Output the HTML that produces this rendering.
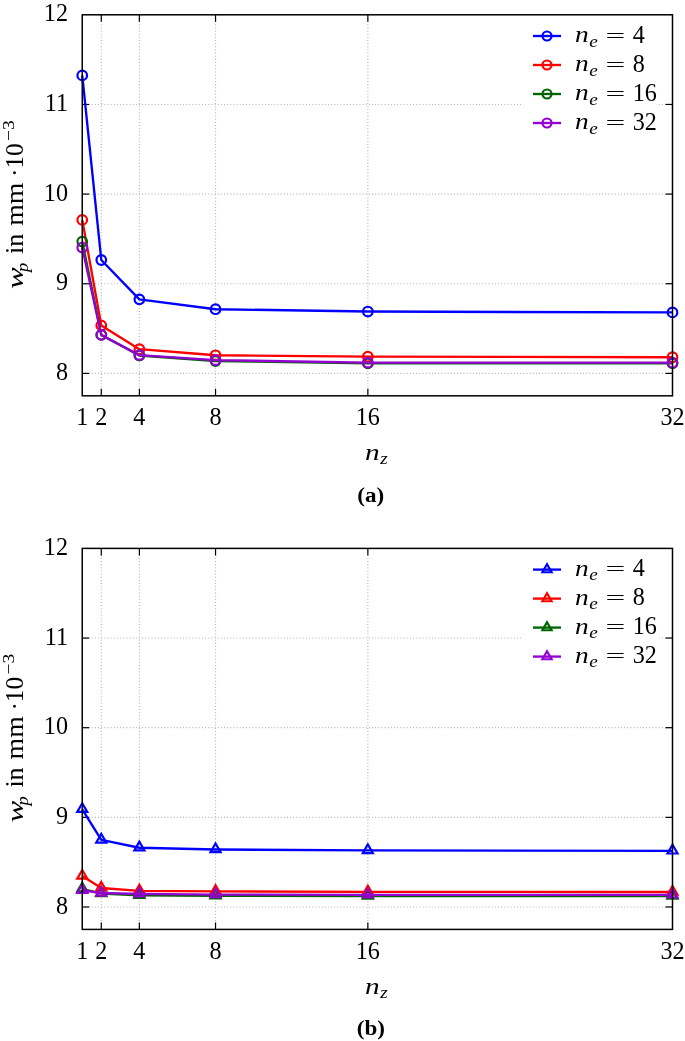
<!DOCTYPE html>
<html><head><meta charset="utf-8"><title>Figure</title>
<style>
html,body{margin:0;padding:0;background:#fff;}
svg{display:block}
.t{font-family:"Liberation Serif",serif;fill:#000}
.cap{font-family:"Liberation Serif",serif;font-weight:bold;fill:#000}
.grid{stroke:#b4b4b4;stroke-width:1.15;stroke-dasharray:1 2.15}
.tick{stroke:#000;stroke-width:1.2}
</style></head><body>
<svg width="685" height="1041" viewBox="0 0 685 1041">
<rect width="685" height="1041" fill="#fff"/>
<g transform="translate(0,0)">
<line x1="101.29" y1="14.8" x2="101.29" y2="395.81" class="grid"/>
<line x1="139.37" y1="14.8" x2="139.37" y2="395.81" class="grid"/>
<line x1="215.53" y1="14.8" x2="215.53" y2="395.81" class="grid"/>
<line x1="367.85" y1="14.8" x2="367.85" y2="395.81" class="grid"/>
<line x1="82.25" y1="373.40" x2="672.5" y2="373.40" class="grid"/>
<line x1="82.25" y1="283.75" x2="672.5" y2="283.75" class="grid"/>
<line x1="82.25" y1="194.10" x2="672.5" y2="194.10" class="grid"/>
<line x1="82.25" y1="104.45" x2="672.5" y2="104.45" class="grid"/>
<line x1="101.29" y1="14.8" x2="101.29" y2="21.8" class="tick"/>
<line x1="101.29" y1="395.81" x2="101.29" y2="388.81" class="tick"/>
<line x1="139.37" y1="14.8" x2="139.37" y2="21.8" class="tick"/>
<line x1="139.37" y1="395.81" x2="139.37" y2="388.81" class="tick"/>
<line x1="215.53" y1="14.8" x2="215.53" y2="21.8" class="tick"/>
<line x1="215.53" y1="395.81" x2="215.53" y2="388.81" class="tick"/>
<line x1="367.85" y1="14.8" x2="367.85" y2="21.8" class="tick"/>
<line x1="367.85" y1="395.81" x2="367.85" y2="388.81" class="tick"/>
<line x1="82.25" y1="373.40" x2="89.25" y2="373.40" class="tick"/>
<line x1="672.5" y1="373.40" x2="665.5" y2="373.40" class="tick"/>
<line x1="82.25" y1="283.75" x2="89.25" y2="283.75" class="tick"/>
<line x1="672.5" y1="283.75" x2="665.5" y2="283.75" class="tick"/>
<line x1="82.25" y1="194.10" x2="89.25" y2="194.10" class="tick"/>
<line x1="672.5" y1="194.10" x2="665.5" y2="194.10" class="tick"/>
<line x1="82.25" y1="104.45" x2="89.25" y2="104.45" class="tick"/>
<line x1="672.5" y1="104.45" x2="665.5" y2="104.45" class="tick"/>
<polyline points="82.25,75.40 101.29,259.99 139.37,299.35 215.53,309.21 367.85,311.54 672.50,312.44" fill="none" stroke="#0000ff" stroke-width="2.35" stroke-linejoin="round"/>
<circle cx="82.25" cy="75.40" r="4.8" fill="none" stroke="#0000ff" stroke-width="2.2"/>
<circle cx="101.29" cy="259.99" r="4.8" fill="none" stroke="#0000ff" stroke-width="2.2"/>
<circle cx="139.37" cy="299.35" r="4.8" fill="none" stroke="#0000ff" stroke-width="2.2"/>
<circle cx="215.53" cy="309.21" r="4.8" fill="none" stroke="#0000ff" stroke-width="2.2"/>
<circle cx="367.85" cy="311.54" r="4.8" fill="none" stroke="#0000ff" stroke-width="2.2"/>
<circle cx="672.50" cy="312.44" r="4.8" fill="none" stroke="#0000ff" stroke-width="2.2"/>
<polyline points="82.25,219.92 101.29,325.44 139.37,349.19 215.53,355.29 367.85,356.64 672.50,357.26" fill="none" stroke="#ff0000" stroke-width="2.35" stroke-linejoin="round"/>
<circle cx="82.25" cy="219.92" r="4.8" fill="none" stroke="#ff0000" stroke-width="2.2"/>
<circle cx="101.29" cy="325.44" r="4.8" fill="none" stroke="#ff0000" stroke-width="2.2"/>
<circle cx="139.37" cy="349.19" r="4.8" fill="none" stroke="#ff0000" stroke-width="2.2"/>
<circle cx="215.53" cy="355.29" r="4.8" fill="none" stroke="#ff0000" stroke-width="2.2"/>
<circle cx="367.85" cy="356.64" r="4.8" fill="none" stroke="#ff0000" stroke-width="2.2"/>
<circle cx="672.50" cy="357.26" r="4.8" fill="none" stroke="#ff0000" stroke-width="2.2"/>
<polyline points="82.25,241.61 101.29,334.85 139.37,355.47 215.53,361.03 367.85,363.36 672.50,363.36" fill="none" stroke="#006400" stroke-width="2.35" stroke-linejoin="round"/>
<circle cx="82.25" cy="241.61" r="4.8" fill="none" stroke="#006400" stroke-width="2.2"/>
<circle cx="101.29" cy="334.85" r="4.8" fill="none" stroke="#006400" stroke-width="2.2"/>
<circle cx="139.37" cy="355.47" r="4.8" fill="none" stroke="#006400" stroke-width="2.2"/>
<circle cx="215.53" cy="361.03" r="4.8" fill="none" stroke="#006400" stroke-width="2.2"/>
<circle cx="367.85" cy="363.36" r="4.8" fill="none" stroke="#006400" stroke-width="2.2"/>
<circle cx="672.50" cy="363.36" r="4.8" fill="none" stroke="#006400" stroke-width="2.2"/>
<polyline points="82.25,247.53 101.29,334.94 139.37,355.11 215.53,360.13 367.85,362.64 672.50,362.64" fill="none" stroke="#9400d3" stroke-width="2.35" stroke-linejoin="round"/>
<circle cx="82.25" cy="247.53" r="4.8" fill="none" stroke="#9400d3" stroke-width="2.2"/>
<circle cx="101.29" cy="334.94" r="4.8" fill="none" stroke="#9400d3" stroke-width="2.2"/>
<circle cx="139.37" cy="355.11" r="4.8" fill="none" stroke="#9400d3" stroke-width="2.2"/>
<circle cx="215.53" cy="360.13" r="4.8" fill="none" stroke="#9400d3" stroke-width="2.2"/>
<circle cx="367.85" cy="362.64" r="4.8" fill="none" stroke="#9400d3" stroke-width="2.2"/>
<circle cx="672.50" cy="362.64" r="4.8" fill="none" stroke="#9400d3" stroke-width="2.2"/>
<rect x="521" y="15.8" width="137.5" height="125" fill="#fff"/>
<rect x="82.25" y="14.8" width="590.25" height="381.01" fill="none" stroke="#000" stroke-width="1.5"/>
<line x1="533" y1="36" x2="561" y2="36" stroke="#0000ff" stroke-width="2.35"/>
<circle cx="547.00" cy="36.00" r="4.5" fill="none" stroke="#0000ff" stroke-width="2.2"/>
<text transform="translate(575.00,42.00) scale(1.14,1.0)" class="t" style="font-size:24px;font-style:italic;" text-anchor="start">n</text>
<text transform="translate(589.20,46.60) scale(1.1,1.0)" class="t" style="font-size:17.5px;font-style:italic;" text-anchor="start">e</text>
<text transform="translate(605.60,41.80) scale(1.35,0.7)" class="t" style="font-size:26px;" text-anchor="start">=</text>
<text transform="translate(632.70,42.50) scale(0.93,1.0)" class="t" style="font-size:26px;" text-anchor="start">4</text>
<line x1="533" y1="65" x2="561" y2="65" stroke="#ff0000" stroke-width="2.35"/>
<circle cx="547.00" cy="65.00" r="4.5" fill="none" stroke="#ff0000" stroke-width="2.2"/>
<text transform="translate(575.00,71.00) scale(1.14,1.0)" class="t" style="font-size:24px;font-style:italic;" text-anchor="start">n</text>
<text transform="translate(589.20,75.60) scale(1.1,1.0)" class="t" style="font-size:17.5px;font-style:italic;" text-anchor="start">e</text>
<text transform="translate(605.60,70.80) scale(1.35,0.7)" class="t" style="font-size:26px;" text-anchor="start">=</text>
<text transform="translate(632.70,71.50) scale(0.93,1.0)" class="t" style="font-size:26px;" text-anchor="start">8</text>
<line x1="533" y1="94" x2="561" y2="94" stroke="#006400" stroke-width="2.35"/>
<circle cx="547.00" cy="94.00" r="4.5" fill="none" stroke="#006400" stroke-width="2.2"/>
<text transform="translate(575.00,100.00) scale(1.14,1.0)" class="t" style="font-size:24px;font-style:italic;" text-anchor="start">n</text>
<text transform="translate(589.20,104.60) scale(1.1,1.0)" class="t" style="font-size:17.5px;font-style:italic;" text-anchor="start">e</text>
<text transform="translate(605.60,99.80) scale(1.35,0.7)" class="t" style="font-size:26px;" text-anchor="start">=</text>
<text transform="translate(632.70,100.50) scale(0.93,1.0)" class="t" style="font-size:26px;" text-anchor="start">16</text>
<line x1="533" y1="123" x2="561" y2="123" stroke="#9400d3" stroke-width="2.35"/>
<circle cx="547.00" cy="123.00" r="4.5" fill="none" stroke="#9400d3" stroke-width="2.2"/>
<text transform="translate(575.00,129.00) scale(1.14,1.0)" class="t" style="font-size:24px;font-style:italic;" text-anchor="start">n</text>
<text transform="translate(589.20,133.60) scale(1.1,1.0)" class="t" style="font-size:17.5px;font-style:italic;" text-anchor="start">e</text>
<text transform="translate(605.60,128.80) scale(1.35,0.7)" class="t" style="font-size:26px;" text-anchor="start">=</text>
<text transform="translate(632.70,129.50) scale(0.93,1.0)" class="t" style="font-size:26px;" text-anchor="start">32</text>
<text transform="translate(82.25,425.30) scale(0.93,1.0)" class="t" style="font-size:26px;" text-anchor="middle">1</text>
<text transform="translate(101.29,425.30) scale(0.93,1.0)" class="t" style="font-size:26px;" text-anchor="middle">2</text>
<text transform="translate(139.37,425.30) scale(0.93,1.0)" class="t" style="font-size:26px;" text-anchor="middle">4</text>
<text transform="translate(215.53,425.30) scale(0.93,1.0)" class="t" style="font-size:26px;" text-anchor="middle">8</text>
<text transform="translate(367.85,425.30) scale(0.93,1.0)" class="t" style="font-size:26px;" text-anchor="middle">16</text>
<text transform="translate(672.50,425.30) scale(0.93,1.0)" class="t" style="font-size:26px;" text-anchor="middle">32</text>
<text transform="translate(68.00,380.00) scale(0.93,1.0)" class="t" style="font-size:26px;" text-anchor="end">8</text>
<text transform="translate(68.00,290.35) scale(0.93,1.0)" class="t" style="font-size:26px;" text-anchor="end">9</text>
<text transform="translate(68.00,200.70) scale(0.93,1.0)" class="t" style="font-size:26px;" text-anchor="end">10</text>
<text transform="translate(68.00,111.05) scale(0.93,1.0)" class="t" style="font-size:26px;" text-anchor="end">11</text>
<text transform="translate(68.00,21.40) scale(0.93,1.0)" class="t" style="font-size:26px;" text-anchor="end">12</text>
<text transform="translate(365.00,460.00) scale(1.22,1.0)" class="t" style="font-size:24px;font-style:italic;" text-anchor="start">n</text>
<text transform="translate(380.20,464.00) scale(1.12,1.0)" class="t" style="font-size:17px;font-style:italic;" text-anchor="start">z</text>
<g transform="translate(23.4,289) rotate(-90)">
<text transform="translate(0.00,0.00) scale(1.45,1.0)" class="t" style="font-size:22.5px;font-style:italic;" text-anchor="start">w</text>
<text transform="translate(17.00,4.20) scale(1.15,1.0)" class="t" style="font-size:16px;font-style:italic;" text-anchor="start">p</text>
<text transform="translate(35.00,0.00)" class="t" style="font-size:26px;" text-anchor="start">in</text>
<text transform="translate(63.20,0.00) scale(1.07,1.0)" class="t" style="font-size:26px;" text-anchor="start">mm</text>
<text transform="translate(112.00,0.00) scale(0.97,1.0)" class="t" style="font-size:26px;" text-anchor="start">·10</text>
<text transform="translate(148.00,-9.50) scale(1.12,1.0)" class="t" style="font-size:17.5px;" text-anchor="start">−3</text>
</g>
<text transform="translate(370.80,501.50) scale(1.1,1.0)" class="cap" style="font-size:21px;" text-anchor="middle">(a)</text>
</g>
<g transform="translate(0,533.6)">
<line x1="101.29" y1="14.8" x2="101.29" y2="395.81" class="grid"/>
<line x1="139.37" y1="14.8" x2="139.37" y2="395.81" class="grid"/>
<line x1="215.53" y1="14.8" x2="215.53" y2="395.81" class="grid"/>
<line x1="367.85" y1="14.8" x2="367.85" y2="395.81" class="grid"/>
<line x1="82.25" y1="373.40" x2="672.5" y2="373.40" class="grid"/>
<line x1="82.25" y1="283.75" x2="672.5" y2="283.75" class="grid"/>
<line x1="82.25" y1="194.10" x2="672.5" y2="194.10" class="grid"/>
<line x1="82.25" y1="104.45" x2="672.5" y2="104.45" class="grid"/>
<line x1="101.29" y1="14.8" x2="101.29" y2="21.8" class="tick"/>
<line x1="101.29" y1="395.81" x2="101.29" y2="388.81" class="tick"/>
<line x1="139.37" y1="14.8" x2="139.37" y2="21.8" class="tick"/>
<line x1="139.37" y1="395.81" x2="139.37" y2="388.81" class="tick"/>
<line x1="215.53" y1="14.8" x2="215.53" y2="21.8" class="tick"/>
<line x1="215.53" y1="395.81" x2="215.53" y2="388.81" class="tick"/>
<line x1="367.85" y1="14.8" x2="367.85" y2="21.8" class="tick"/>
<line x1="367.85" y1="395.81" x2="367.85" y2="388.81" class="tick"/>
<line x1="82.25" y1="373.40" x2="89.25" y2="373.40" class="tick"/>
<line x1="672.5" y1="373.40" x2="665.5" y2="373.40" class="tick"/>
<line x1="82.25" y1="283.75" x2="89.25" y2="283.75" class="tick"/>
<line x1="672.5" y1="283.75" x2="665.5" y2="283.75" class="tick"/>
<line x1="82.25" y1="194.10" x2="89.25" y2="194.10" class="tick"/>
<line x1="672.5" y1="194.10" x2="665.5" y2="194.10" class="tick"/>
<line x1="82.25" y1="104.45" x2="89.25" y2="104.45" class="tick"/>
<line x1="672.5" y1="104.45" x2="665.5" y2="104.45" class="tick"/>
<polyline points="82.25,275.68 101.29,306.34 139.37,314.14 215.53,315.93 367.85,316.83 672.50,317.28" fill="none" stroke="#0000ff" stroke-width="2.35" stroke-linejoin="round"/>
<polygon points="82.25,269.58 77.23,278.28 87.27,278.28" fill="none" stroke="#0000ff" stroke-width="2.2" stroke-linejoin="miter"/>
<polygon points="101.29,300.24 96.27,308.94 106.31,308.94" fill="none" stroke="#0000ff" stroke-width="2.2" stroke-linejoin="miter"/>
<polygon points="139.37,308.04 134.35,316.74 144.39,316.74" fill="none" stroke="#0000ff" stroke-width="2.2" stroke-linejoin="miter"/>
<polygon points="215.53,309.83 210.51,318.53 220.56,318.53" fill="none" stroke="#0000ff" stroke-width="2.2" stroke-linejoin="miter"/>
<polygon points="367.85,310.73 362.83,319.43 372.88,319.43" fill="none" stroke="#0000ff" stroke-width="2.2" stroke-linejoin="miter"/>
<polygon points="672.50,311.18 667.48,319.88 677.52,319.88" fill="none" stroke="#0000ff" stroke-width="2.2" stroke-linejoin="miter"/>
<polyline points="82.25,342.47 101.29,354.39 139.37,357.26 215.53,357.80 367.85,358.25 672.50,358.43" fill="none" stroke="#ff0000" stroke-width="2.35" stroke-linejoin="round"/>
<polygon points="82.25,336.37 77.23,345.07 87.27,345.07" fill="none" stroke="#ff0000" stroke-width="2.2" stroke-linejoin="miter"/>
<polygon points="101.29,348.29 96.27,356.99 106.31,356.99" fill="none" stroke="#ff0000" stroke-width="2.2" stroke-linejoin="miter"/>
<polygon points="139.37,351.16 134.35,359.86 144.39,359.86" fill="none" stroke="#ff0000" stroke-width="2.2" stroke-linejoin="miter"/>
<polygon points="215.53,351.70 210.51,360.40 220.56,360.40" fill="none" stroke="#ff0000" stroke-width="2.2" stroke-linejoin="miter"/>
<polygon points="367.85,352.15 362.83,360.85 372.88,360.85" fill="none" stroke="#ff0000" stroke-width="2.2" stroke-linejoin="miter"/>
<polygon points="672.50,352.33 667.48,361.03 677.52,361.03" fill="none" stroke="#ff0000" stroke-width="2.2" stroke-linejoin="miter"/>
<polyline points="82.25,355.20 101.29,359.95 139.37,361.66 215.53,362.19 367.85,362.37 672.50,362.37" fill="none" stroke="#006400" stroke-width="2.35" stroke-linejoin="round"/>
<polygon points="82.25,349.10 77.23,357.80 87.27,357.80" fill="none" stroke="#006400" stroke-width="2.2" stroke-linejoin="miter"/>
<polygon points="101.29,353.85 96.27,362.55 106.31,362.55" fill="none" stroke="#006400" stroke-width="2.2" stroke-linejoin="miter"/>
<polygon points="139.37,355.56 134.35,364.26 144.39,364.26" fill="none" stroke="#006400" stroke-width="2.2" stroke-linejoin="miter"/>
<polygon points="215.53,356.09 210.51,364.79 220.56,364.79" fill="none" stroke="#006400" stroke-width="2.2" stroke-linejoin="miter"/>
<polygon points="367.85,356.27 362.83,364.97 372.88,364.97" fill="none" stroke="#006400" stroke-width="2.2" stroke-linejoin="miter"/>
<polygon points="672.50,356.27 667.48,364.97 677.52,364.97" fill="none" stroke="#006400" stroke-width="2.2" stroke-linejoin="miter"/>
<polyline points="82.25,356.81 101.29,359.41 139.37,360.22 215.53,361.03 367.85,361.21 672.50,361.21" fill="none" stroke="#9400d3" stroke-width="2.35" stroke-linejoin="round"/>
<polygon points="82.25,350.71 77.23,359.41 87.27,359.41" fill="none" stroke="#9400d3" stroke-width="2.2" stroke-linejoin="miter"/>
<polygon points="101.29,353.31 96.27,362.01 106.31,362.01" fill="none" stroke="#9400d3" stroke-width="2.2" stroke-linejoin="miter"/>
<polygon points="139.37,354.12 134.35,362.82 144.39,362.82" fill="none" stroke="#9400d3" stroke-width="2.2" stroke-linejoin="miter"/>
<polygon points="215.53,354.93 210.51,363.63 220.56,363.63" fill="none" stroke="#9400d3" stroke-width="2.2" stroke-linejoin="miter"/>
<polygon points="367.85,355.11 362.83,363.81 372.88,363.81" fill="none" stroke="#9400d3" stroke-width="2.2" stroke-linejoin="miter"/>
<polygon points="672.50,355.11 667.48,363.81 677.52,363.81" fill="none" stroke="#9400d3" stroke-width="2.2" stroke-linejoin="miter"/>
<rect x="521" y="15.8" width="137.5" height="125" fill="#fff"/>
<rect x="82.25" y="14.8" width="590.25" height="381.01" fill="none" stroke="#000" stroke-width="1.5"/>
<line x1="533" y1="36" x2="561" y2="36" stroke="#0000ff" stroke-width="2.35"/>
<polygon points="547.00,30.70 542.41,38.65 551.59,38.65" fill="none" stroke="#0000ff" stroke-width="2.2" stroke-linejoin="miter"/>
<text transform="translate(575.00,42.00) scale(1.14,1.0)" class="t" style="font-size:24px;font-style:italic;" text-anchor="start">n</text>
<text transform="translate(589.20,46.60) scale(1.1,1.0)" class="t" style="font-size:17.5px;font-style:italic;" text-anchor="start">e</text>
<text transform="translate(605.60,41.80) scale(1.35,0.7)" class="t" style="font-size:26px;" text-anchor="start">=</text>
<text transform="translate(632.70,42.50) scale(0.93,1.0)" class="t" style="font-size:26px;" text-anchor="start">4</text>
<line x1="533" y1="65" x2="561" y2="65" stroke="#ff0000" stroke-width="2.35"/>
<polygon points="547.00,59.70 542.41,67.65 551.59,67.65" fill="none" stroke="#ff0000" stroke-width="2.2" stroke-linejoin="miter"/>
<text transform="translate(575.00,71.00) scale(1.14,1.0)" class="t" style="font-size:24px;font-style:italic;" text-anchor="start">n</text>
<text transform="translate(589.20,75.60) scale(1.1,1.0)" class="t" style="font-size:17.5px;font-style:italic;" text-anchor="start">e</text>
<text transform="translate(605.60,70.80) scale(1.35,0.7)" class="t" style="font-size:26px;" text-anchor="start">=</text>
<text transform="translate(632.70,71.50) scale(0.93,1.0)" class="t" style="font-size:26px;" text-anchor="start">8</text>
<line x1="533" y1="94" x2="561" y2="94" stroke="#006400" stroke-width="2.35"/>
<polygon points="547.00,88.70 542.41,96.65 551.59,96.65" fill="none" stroke="#006400" stroke-width="2.2" stroke-linejoin="miter"/>
<text transform="translate(575.00,100.00) scale(1.14,1.0)" class="t" style="font-size:24px;font-style:italic;" text-anchor="start">n</text>
<text transform="translate(589.20,104.60) scale(1.1,1.0)" class="t" style="font-size:17.5px;font-style:italic;" text-anchor="start">e</text>
<text transform="translate(605.60,99.80) scale(1.35,0.7)" class="t" style="font-size:26px;" text-anchor="start">=</text>
<text transform="translate(632.70,100.50) scale(0.93,1.0)" class="t" style="font-size:26px;" text-anchor="start">16</text>
<line x1="533" y1="123" x2="561" y2="123" stroke="#9400d3" stroke-width="2.35"/>
<polygon points="547.00,117.70 542.41,125.65 551.59,125.65" fill="none" stroke="#9400d3" stroke-width="2.2" stroke-linejoin="miter"/>
<text transform="translate(575.00,129.00) scale(1.14,1.0)" class="t" style="font-size:24px;font-style:italic;" text-anchor="start">n</text>
<text transform="translate(589.20,133.60) scale(1.1,1.0)" class="t" style="font-size:17.5px;font-style:italic;" text-anchor="start">e</text>
<text transform="translate(605.60,128.80) scale(1.35,0.7)" class="t" style="font-size:26px;" text-anchor="start">=</text>
<text transform="translate(632.70,129.50) scale(0.93,1.0)" class="t" style="font-size:26px;" text-anchor="start">32</text>
<text transform="translate(82.25,425.30) scale(0.93,1.0)" class="t" style="font-size:26px;" text-anchor="middle">1</text>
<text transform="translate(101.29,425.30) scale(0.93,1.0)" class="t" style="font-size:26px;" text-anchor="middle">2</text>
<text transform="translate(139.37,425.30) scale(0.93,1.0)" class="t" style="font-size:26px;" text-anchor="middle">4</text>
<text transform="translate(215.53,425.30) scale(0.93,1.0)" class="t" style="font-size:26px;" text-anchor="middle">8</text>
<text transform="translate(367.85,425.30) scale(0.93,1.0)" class="t" style="font-size:26px;" text-anchor="middle">16</text>
<text transform="translate(672.50,425.30) scale(0.93,1.0)" class="t" style="font-size:26px;" text-anchor="middle">32</text>
<text transform="translate(68.00,380.00) scale(0.93,1.0)" class="t" style="font-size:26px;" text-anchor="end">8</text>
<text transform="translate(68.00,290.35) scale(0.93,1.0)" class="t" style="font-size:26px;" text-anchor="end">9</text>
<text transform="translate(68.00,200.70) scale(0.93,1.0)" class="t" style="font-size:26px;" text-anchor="end">10</text>
<text transform="translate(68.00,111.05) scale(0.93,1.0)" class="t" style="font-size:26px;" text-anchor="end">11</text>
<text transform="translate(68.00,21.40) scale(0.93,1.0)" class="t" style="font-size:26px;" text-anchor="end">12</text>
<text transform="translate(365.00,460.00) scale(1.22,1.0)" class="t" style="font-size:24px;font-style:italic;" text-anchor="start">n</text>
<text transform="translate(380.20,464.00) scale(1.12,1.0)" class="t" style="font-size:17px;font-style:italic;" text-anchor="start">z</text>
<g transform="translate(23.4,289) rotate(-90)">
<text transform="translate(0.00,0.00) scale(1.45,1.0)" class="t" style="font-size:22.5px;font-style:italic;" text-anchor="start">w</text>
<text transform="translate(17.00,4.20) scale(1.15,1.0)" class="t" style="font-size:16px;font-style:italic;" text-anchor="start">p</text>
<text transform="translate(35.00,0.00)" class="t" style="font-size:26px;" text-anchor="start">in</text>
<text transform="translate(63.20,0.00) scale(1.07,1.0)" class="t" style="font-size:26px;" text-anchor="start">mm</text>
<text transform="translate(112.00,0.00) scale(0.97,1.0)" class="t" style="font-size:26px;" text-anchor="start">·10</text>
<text transform="translate(148.00,-9.50) scale(1.12,1.0)" class="t" style="font-size:17.5px;" text-anchor="start">−3</text>
</g>
<text transform="translate(370.80,501.50) scale(1.1,1.0)" class="cap" style="font-size:21px;" text-anchor="middle">(b)</text>
</g>
</svg>
</body></html>
